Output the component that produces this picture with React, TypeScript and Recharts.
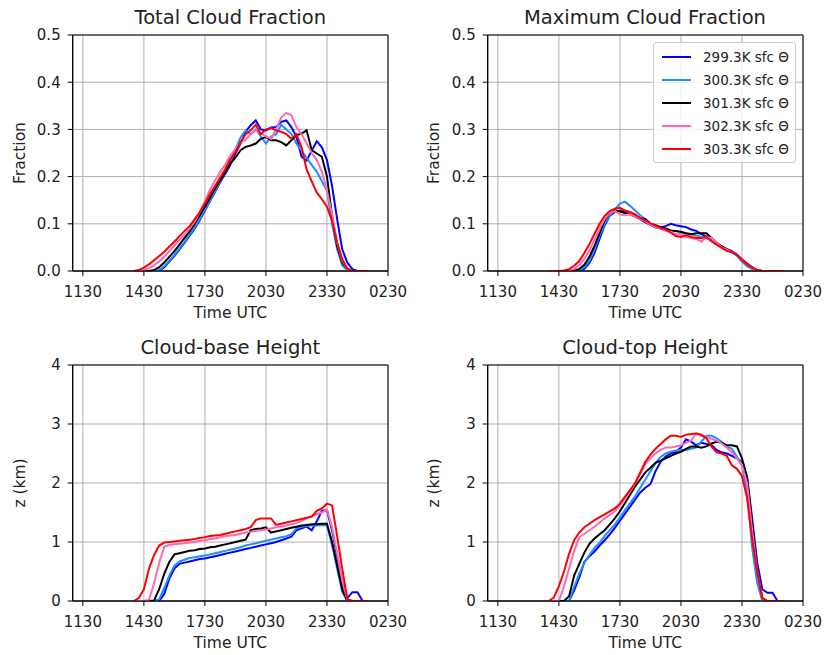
import React from 'react';
import { LineChart, Line, XAxis, YAxis, CartesianGrid, ReferenceArea, Label } from 'recharts';

// time in hours UTC (values past 24 run into the next day)
const TIMES = [
  14, 14.25, 14.5, 14.75, 15, 15.25, 15.5, 15.75, 16, 16.25, 16.5, 16.75,
  17, 17.25, 17.5, 17.75, 18, 18.25, 18.5, 18.75, 19, 19.25, 19.5, 19.75,
  20, 20.25, 20.5, 20.75, 21, 21.25, 21.5, 21.75, 22, 22.25, 22.5, 22.75,
  23, 23.25, 23.5, 23.75, 24, 24.25, 24.5, 24.75, 25, 25.25, 25.5,
];

const X_TICKS = [11.5, 14.5, 17.5, 20.5, 23.5, 26.5];
const FRAC_TICKS = [0, 0.1, 0.2, 0.3, 0.4, 0.5];
const HEIGHT_TICKS = [0, 1, 2, 3, 4];

const SERIES = [
  { key: 's299', name: '299.3K sfc Θ', color: '#0000ff' },
  { key: 's300', name: '300.3K sfc Θ', color: '#1e90ff' },
  { key: 's301', name: '301.3K sfc Θ', color: '#000000' },
  { key: 's302', name: '302.3K sfc Θ', color: '#ff69b4' },
  { key: 's303', name: '303.3K sfc Θ', color: '#ff0000' },
];

// Total cloud fraction
const TOT_299 = [0, 0, 0, 0, 0, 0, 0.008, 0.02, 0.032, 0.046, 0.06, 0.075, 0.09, 0.108, 0.128, 0.148, 0.168, 0.188, 0.206, 0.225, 0.249, 0.27, 0.295, 0.309, 0.319, 0.3, 0.298, 0.304, 0.305, 0.316, 0.319, 0.305, 0.284, 0.242, 0.234, 0.255, 0.275, 0.262, 0.235, 0.18, 0.11, 0.046, 0.018, 0.004, 0, 0, 0];
const TOT_300 = [0, 0, 0, 0, 0, 0.002, 0.01, 0.022, 0.034, 0.048, 0.062, 0.077, 0.093, 0.11, 0.13, 0.15, 0.17, 0.19, 0.21, 0.232, 0.258, 0.283, 0.298, 0.29, 0.3, 0.285, 0.27, 0.285, 0.29, 0.31, 0.3, 0.29, 0.27, 0.255, 0.24, 0.225, 0.21, 0.19, 0.17, 0.1, 0.046, 0.012, 0.002, 0, 0, 0, 0];
const TOT_301 = [0, 0, 0, 0, 0.002, 0.008, 0.018, 0.03, 0.042, 0.056, 0.07, 0.084, 0.1, 0.118, 0.136, 0.155, 0.175, 0.193, 0.21, 0.228, 0.24, 0.256, 0.263, 0.266, 0.27, 0.28, 0.284, 0.277, 0.277, 0.273, 0.266, 0.277, 0.288, 0.291, 0.298, 0.256, 0.249, 0.242, 0.2, 0.117, 0.053, 0.018, 0.004, 0, 0, 0, 0];
const TOT_302 = [0, 0, 0.002, 0.006, 0.012, 0.02, 0.03, 0.042, 0.054, 0.066, 0.077, 0.09, 0.105, 0.125, 0.148, 0.172, 0.192, 0.21, 0.226, 0.245, 0.258, 0.272, 0.278, 0.29, 0.298, 0.292, 0.285, 0.28, 0.3, 0.325, 0.335, 0.33, 0.305, 0.29, 0.27, 0.25, 0.235, 0.21, 0.17, 0.12, 0.06, 0.022, 0.004, 0, 0, 0, 0];
const TOT_303 = [0, 0.002, 0.007, 0.014, 0.023, 0.032, 0.041, 0.052, 0.062, 0.074, 0.085, 0.095, 0.11, 0.125, 0.143, 0.163, 0.18, 0.198, 0.216, 0.237, 0.252, 0.273, 0.29, 0.298, 0.31, 0.29, 0.3, 0.303, 0.298, 0.295, 0.29, 0.28, 0.29, 0.262, 0.215, 0.19, 0.166, 0.152, 0.136, 0.106, 0.06, 0.025, 0.005, 0, 0, 0, 0];

// Maximum cloud fraction
const MAX_299 = [0, 0, 0, 0, 0, 0, 0, 0.005, 0.017, 0.038, 0.068, 0.097, 0.117, 0.125, 0.128, 0.125, 0.12, 0.115, 0.11, 0.103, 0.098, 0.092, 0.092, 0.095, 0.1, 0.097, 0.095, 0.093, 0.088, 0.085, 0.078, 0.073, 0.068, 0.06, 0.052, 0.047, 0.042, 0.035, 0.024, 0.014, 0.006, 0.001, 0, 0, 0, 0, 0];
const MAX_300 = [0, 0, 0, 0, 0, 0, 0.001, 0.008, 0.022, 0.045, 0.075, 0.1, 0.118, 0.13, 0.143, 0.147, 0.138, 0.128, 0.118, 0.11, 0.1, 0.095, 0.09, 0.088, 0.085, 0.085, 0.08, 0.08, 0.078, 0.075, 0.072, 0.07, 0.065, 0.058, 0.05, 0.045, 0.04, 0.033, 0.02, 0.01, 0.004, 0, 0, 0, 0, 0, 0];
const MAX_301 = [0, 0, 0, 0, 0, 0.001, 0.004, 0.013, 0.03, 0.053, 0.08, 0.107, 0.123, 0.128, 0.126, 0.123, 0.12, 0.117, 0.112, 0.11, 0.1, 0.097, 0.093, 0.09, 0.086, 0.085, 0.083, 0.08, 0.078, 0.08, 0.08, 0.08, 0.07, 0.06, 0.052, 0.045, 0.04, 0.034, 0.025, 0.016, 0.008, 0.002, 0, 0, 0, 0, 0];
const MAX_302 = [0, 0, 0, 0, 0.001, 0.004, 0.012, 0.025, 0.043, 0.066, 0.09, 0.11, 0.123, 0.127, 0.12, 0.118, 0.12, 0.115, 0.11, 0.105, 0.098, 0.093, 0.09, 0.085, 0.083, 0.078, 0.078, 0.072, 0.07, 0.068, 0.062, 0.072, 0.07, 0.06, 0.05, 0.045, 0.04, 0.034, 0.024, 0.014, 0.007, 0.002, 0, 0, 0, 0, 0];
const MAX_303 = [0, 0, 0, 0.001, 0.004, 0.011, 0.021, 0.038, 0.057, 0.079, 0.1, 0.117, 0.127, 0.132, 0.134, 0.128, 0.125, 0.12, 0.112, 0.107, 0.101, 0.096, 0.091, 0.088, 0.081, 0.074, 0.072, 0.076, 0.072, 0.07, 0.07, 0.072, 0.063, 0.056, 0.049, 0.043, 0.04, 0.034, 0.023, 0.014, 0.007, 0.002, 0, 0, 0, 0, 0];

// Cloud-base height (km)
const BASE_299 = [0, 0, 0, 0, 0, 0, 0.12, 0.38, 0.55, 0.63, 0.65, 0.67, 0.69, 0.71, 0.72, 0.74, 0.76, 0.78, 0.8, 0.82, 0.84, 0.86, 0.88, 0.9, 0.92, 0.94, 0.96, 0.98, 1.0, 1.03, 1.06, 1.09, 1.2, 1.23, 1.26, 1.2, 1.35, 1.53, 1.54, 1.2, 0.75, 0.3, 0.05, 0.15, 0.15, 0, 0];
const BASE_300 = [0, 0, 0, 0, 0, 0.03, 0.22, 0.43, 0.6, 0.67, 0.7, 0.73, 0.74, 0.76, 0.77, 0.79, 0.81, 0.83, 0.85, 0.87, 0.89, 0.91, 0.94, 0.96, 0.98, 1.0, 1.02, 1.04, 1.06, 1.08, 1.1, 1.13, 1.23, 1.26, 1.27, 1.28, 1.28, 1.29, 1.28, 0.95, 0.55, 0.15, 0, 0, 0, 0, 0];
const BASE_301 = [0, 0, 0, 0, 0.01, 0.2, 0.46, 0.66, 0.79, 0.81, 0.83, 0.85, 0.86, 0.88, 0.89, 0.91, 0.92, 0.94, 0.96, 0.98, 1.0, 1.02, 1.04, 1.2, 1.22, 1.23, 1.25, 1.16, 1.18, 1.2, 1.22, 1.24, 1.26, 1.28, 1.29, 1.3, 1.3, 1.31, 1.31, 1.0, 0.6, 0.2, 0, 0, 0, 0, 0];
const BASE_302 = [0, 0, 0, 0.02, 0.3, 0.65, 0.92, 0.95, 0.96, 0.97, 0.98, 0.99, 1.0, 1.02, 1.03, 1.05, 1.06, 1.08, 1.1, 1.11, 1.12, 1.14, 1.16, 1.17, 1.19, 1.2, 1.21, 1.23, 1.25, 1.26, 1.28, 1.3, 1.32, 1.36, 1.41, 1.44, 1.47, 1.5, 1.55, 1.25, 0.8, 0.35, 0.02, 0, 0, 0, 0];
const BASE_303 = [0, 0.05, 0.2, 0.55, 0.78, 0.94, 0.99, 1.0, 1.01, 1.02, 1.03, 1.04, 1.05, 1.07, 1.08, 1.1, 1.11, 1.12, 1.14, 1.16, 1.18, 1.2, 1.22, 1.25, 1.37, 1.4, 1.4, 1.4, 1.29, 1.31, 1.33, 1.35, 1.37, 1.39, 1.41, 1.43, 1.53, 1.57, 1.65, 1.62, 1.1, 0.55, 0.03, 0, 0, 0, 0];

// Cloud-top height (km)
const TOP_299 = [0, 0, 0, 0, 0, 0.18, 0.4, 0.66, 0.76, 0.84, 0.94, 1.03, 1.13, 1.24, 1.36, 1.48, 1.6, 1.72, 1.84, 1.92, 1.98, 2.2, 2.36, 2.45, 2.5, 2.53, 2.6, 2.74, 2.7, 2.64, 2.68, 2.66, 2.64, 2.56, 2.52, 2.5, 2.46, 2.42, 2.36, 2.1, 1.4, 0.65, 0.2, 0.14, 0.14, 0, 0];
const TOP_300 = [0, 0, 0, 0, 0, 0.24, 0.46, 0.65, 0.78, 0.9, 0.99, 1.1, 1.2, 1.3, 1.42, 1.54, 1.66, 1.78, 1.92, 2.06, 2.2, 2.34, 2.44, 2.5, 2.53, 2.55, 2.56, 2.56, 2.58, 2.6, 2.7, 2.8, 2.8, 2.76, 2.7, 2.62, 2.58, 2.45, 2.3, 1.85, 0.9, 0.3, 0, 0, 0, 0, 0];
const TOP_301 = [0, 0, 0, 0, 0.08, 0.43, 0.63, 0.82, 0.97, 1.06, 1.13, 1.2, 1.3, 1.4, 1.52, 1.66, 1.8, 1.94, 2.06, 2.18, 2.26, 2.34, 2.38, 2.42, 2.46, 2.5, 2.53, 2.58, 2.62, 2.62, 2.6, 2.62, 2.67, 2.7, 2.68, 2.64, 2.64, 2.62, 2.42, 2.1, 1.3, 0.5, 0.05, 0, 0, 0, 0];
const TOP_302 = [0, 0, 0, 0.25, 0.55, 0.85, 1.08, 1.14, 1.2, 1.26, 1.33, 1.4, 1.46, 1.52, 1.62, 1.74, 1.86, 2.0, 2.15, 2.32, 2.42, 2.5, 2.56, 2.6, 2.6, 2.62, 2.64, 2.68, 2.72, 2.84, 2.8, 2.78, 2.75, 2.72, 2.67, 2.6, 2.52, 2.42, 2.3, 2.0, 1.2, 0.5, 0.05, 0, 0, 0, 0];
const TOP_303 = [0, 0.06, 0.25, 0.5, 0.8, 1.03, 1.16, 1.25, 1.31, 1.37, 1.42, 1.47, 1.52, 1.57, 1.65, 1.77, 1.88, 2.0, 2.18, 2.36, 2.48, 2.58, 2.66, 2.74, 2.8, 2.8, 2.78, 2.82, 2.83, 2.84, 2.82, 2.76, 2.62, 2.52, 2.5, 2.46, 2.3, 2.24, 2.12, 1.75, 1.05, 0.5, 0.05, 0, 0, 0, 0];

const buildRows = (cols: number[][]) =>
  TIMES.map((t, i) => {
    const row: Record<string, number> = { t };
    SERIES.forEach((s, j) => {
      row[s.key] = cols[j][i];
    });
    return row;
  });

const totalRows = buildRows([TOT_299, TOT_300, TOT_301, TOT_302, TOT_303]);
const maxRows = buildRows([MAX_299, MAX_300, MAX_301, MAX_302, MAX_303]);
const baseRows = buildRows([BASE_299, BASE_300, BASE_301, BASE_302, BASE_303]);
const topRows = buildRows([TOP_299, TOP_300, TOP_301, TOP_302, TOP_303]);

const fmtTime = (t: number) => {
  const h = Math.floor(t) % 24;
  const m = Math.round((t - Math.floor(t)) * 60);
  return `${String(h).padStart(2, '0')}${String(m).padStart(2, '0')}`;
};

const FONT = '"DejaVu Sans", Verdana, sans-serif';
const TEXT = '#222';

// panel geometry: plot box is 315.3 x 236 starting at (72.7, 35) inside each panel
const PW = 410;
const PH = 325;
const Y_W = 72.7;
const M_TOP = 35;
const M_RIGHT = PW - Y_W - 315.3;

interface PanelProps {
  left: number;
  top: number;
  title: string;
  yLabel: string;
  rows: Record<string, number>[];
  yMax: number;
  yTicks: number[];
  yFmt: (v: number) => string;
  legend?: boolean;
}

const Panel: React.FC<PanelProps> = ({ left, top, title, yLabel, rows, yMax, yTicks, yFmt, legend }) => (
  <div style={{ position: 'absolute', left, top, width: PW, height: PH }}>
    <LineChart width={PW} height={PH} data={rows} margin={{ top: M_TOP, right: M_RIGHT, bottom: 0, left: 0 }}>
      <CartesianGrid stroke="#b0b0b0" strokeWidth={1} />
      <XAxis
        dataKey="t"
        type="number"
        domain={[11, 26.5]}
        ticks={X_TICKS}
        interval={0}
        allowDataOverflow
        tickFormatter={fmtTime}
        height={54}
        tickSize={5}
        tickMargin={10}
        stroke="#000"
        tick={{ fontSize: 15, fill: TEXT }}
      >
        <Label value="Time UTC" position="insideBottom" offset={7} fill={TEXT} fontSize={15.5} />
      </XAxis>
      <YAxis
        type="number"
        domain={[0, yMax]}
        ticks={yTicks}
        interval={0}
        allowDataOverflow
        tickFormatter={yFmt}
        width={Y_W}
        tickSize={5}
        tickMargin={7}
        stroke="#000"
        tick={{ fontSize: 15, fill: TEXT }}
      />
      {SERIES.map(s => (
        <Line
          key={s.key}
          type="linear"
          dataKey={s.key}
          name={s.name}
          stroke={s.color}
          strokeWidth={2}
          dot={false}
          isAnimationActive={false}
        />
      ))}
      <ReferenceArea x1={11} x2={26.5} y1={0} y2={yMax} fill="none" stroke="#000" strokeWidth={1} ifOverflow="visible" />
    </LineChart>
    <div
      style={{
        position: 'absolute',
        left: Y_W,
        width: 315.3,
        top: 6,
        textAlign: 'center',
        fontSize: 19.5,
        color: TEXT,
        whiteSpace: 'nowrap',
      }}
    >
      {title}
    </div>
    <div
      style={{
        position: 'absolute',
        left: 19.5,
        top: M_TOP + 118,
        transform: 'translate(-50%, -50%) rotate(-90deg)',
        fontSize: 15.5,
        color: TEXT,
        whiteSpace: 'nowrap',
      }}
    >
      {yLabel}
    </div>
    {legend && (
      <div
        style={{
          position: 'absolute',
          left: 238.4,
          top: 42,
          width: 143,
          height: 121,
          boxSizing: 'border-box',
          border: '1px solid #cccccc',
          borderRadius: 3,
          background: 'rgba(255,255,255,0.8)',
          paddingTop: 2,
        }}
      >
        {SERIES.map(s => (
          <div key={s.key} style={{ display: 'flex', alignItems: 'center', height: 23 }}>
            <div style={{ marginLeft: 8, width: 29, height: 2, background: s.color }} />
            <span style={{ marginLeft: 12, fontSize: 13.5, color: TEXT, whiteSpace: 'nowrap' }}>{s.name}</span>
          </div>
        ))}
      </div>
    )}
  </div>
);

const frac = (v: number) => v.toFixed(1);
const km = (v: number) => String(v);

export default function App() {
  return (
    <div
      style={{
        position: 'absolute',
        left: 0,
        top: 0,
        width: 826,
        height: 655,
        overflow: 'hidden',
        background: '#fff',
        fontFamily: FONT,
      }}
    >
      <Panel left={0} top={0} title="Total Cloud Fraction" yLabel="Fraction" rows={totalRows} yMax={0.5} yTicks={FRAC_TICKS} yFmt={frac} />
      <Panel left={414.6} top={0} title="Maximum Cloud Fraction" yLabel="Fraction" rows={maxRows} yMax={0.5} yTicks={FRAC_TICKS} yFmt={frac} legend />
      <Panel left={0} top={330} title="Cloud-base Height" yLabel="z (km)" rows={baseRows} yMax={4} yTicks={HEIGHT_TICKS} yFmt={km} />
      <Panel left={414.6} top={330} title="Cloud-top Height" yLabel="z (km)" rows={topRows} yMax={4} yTicks={HEIGHT_TICKS} yFmt={km} />
    </div>
  );
}
